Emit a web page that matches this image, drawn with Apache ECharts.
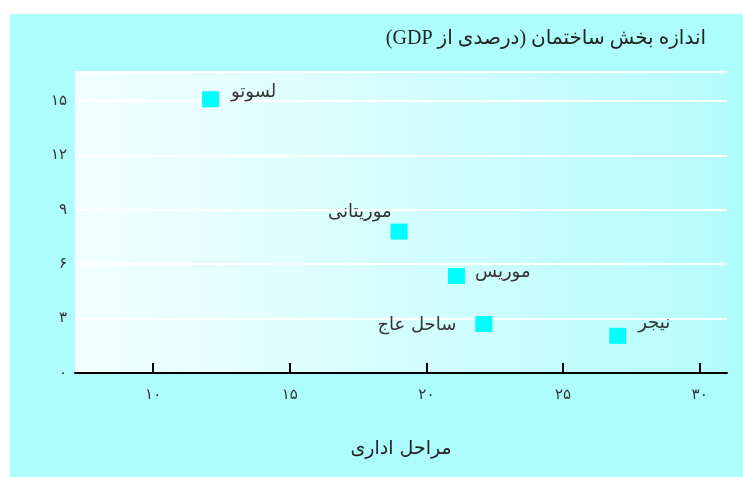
<!DOCTYPE html>
<html>
<head>
<meta charset="utf-8">
<script src="https://cdn.jsdelivr.net/npm/echarts@6/dist/echarts.min.js"></script>
<style>
  html, body { margin: 0; padding: 0; background: #fff; }
  #chart { width: 743px; height: 477px; }
</style>
</head>
<body>
<div id="chart"></div>
<script>
// داده‌ها
const countries = ["لسوتو", "موریتانی", "موریس", "ساحل عاج", "نیجر"];
const procedures = [12.1, 19, 21.1, 22.1, 27];
const constructionShare = [15.1, 7.8, 5.35, 2.7, 2.05];
const xTicks = [10, 15, 20, 25, 30];
const labelPlaces = ["right", "left", "right", "left", "right"];

const faDigits = "۰۱۲۳۴۵۶۷۸۹";
function toFa(n) {
  return String(n).replace(/[0-9]/g, (d) => faDigits[+d]);
}

const labelOffsets = [[0, -7], [1, -19], [0, -4], [0, 1], [0, -13]];
const labelDistances = [12, 0, 10, 19, 12];

const points = countries.map((name, i) => ({
  name: name,
  value: [procedures[i], constructionShare[i]],
  label: {
    position: labelPlaces[i],
    offset: labelOffsets[i],
    distance: labelDistances[i],
  },
}));

const chart = echarts.init(document.getElementById("chart"));
chart.setOption({
  animation: false,
  backgroundColor: "#ffffff",
  graphic: [
    {
      type: "rect",
      z: -10,
      shape: { x: 10, y: 14, width: 733, height: 463 },
      style: { fill: "#adfdfd" },
    },
    {
      type: "text",
      right: 37,
      top: 29,
      style: {
        text: "\u202Bاندازه بخش ساختمان (درصدی از GDP)\u202C",
        font: '20px "Liberation Serif", "DejaVu Sans"',
        fill: "#222",
      },
    },
  ],
  grid: {
    left: 75,
    top: 72,
    right: 16,
    bottom: 104,
    show: true,
    borderWidth: 0,
    backgroundColor: {
      type: "linear",
      x: 0, y: 0, x2: 1, y2: 0,
      colorStops: [
        { offset: 0, color: "#f4ffff" },
        { offset: 1, color: "#b6fcfc" },
      ],
    },
  },
  xAxis: {
    type: "value",
    min: 7.14,
    max: 31,
    name: "مراحل اداری",
    nameLocation: "middle",
    nameGap: 67,
    nameTextStyle: { fontSize: 19, color: "#222", fontFamily: "DejaVu Sans" },
    axisLine: { lineStyle: { color: "#000", width: 2 } },
    axisTick: {
      show: true,
      inside: true,
      length: 10,
      customValues: xTicks,
      lineStyle: { color: "#000", width: 2 },
    },
    axisLabel: {
      customValues: xTicks,
      formatter: (v) => toFa(v),
      margin: 15,
      fontSize: 15,
      color: "#333",
      fontFamily: "DejaVu Sans",
    },
    splitLine: { show: false },
  },
  yAxis: {
    type: "value",
    min: 0,
    max: 16.6,
    interval: 3,
    axisLine: { show: false },
    axisTick: { show: false },
    axisLabel: {
      formatter: (v) => toFa(v),
      margin: 8,
      fontSize: 15,
      color: "#333",
      fontFamily: "DejaVu Sans",
      showMaxLabel: false,
      padding: [0, 0, 7, 0],
    },
    splitLine: { lineStyle: { color: "#ffffff", width: 2 } },
  },
  series: [
    {
      type: "scatter",
      symbol: "rect",
      symbolSize: [17, 16],
      itemStyle: { color: "#00ffff", opacity: 1 },
      label: {
        show: true,
        formatter: "{b}",
        fontSize: 18,
        color: "#333",
        fontFamily: "DejaVu Sans",
      },
      data: points,
    },
  ],
});
</script>
</body>
</html>
